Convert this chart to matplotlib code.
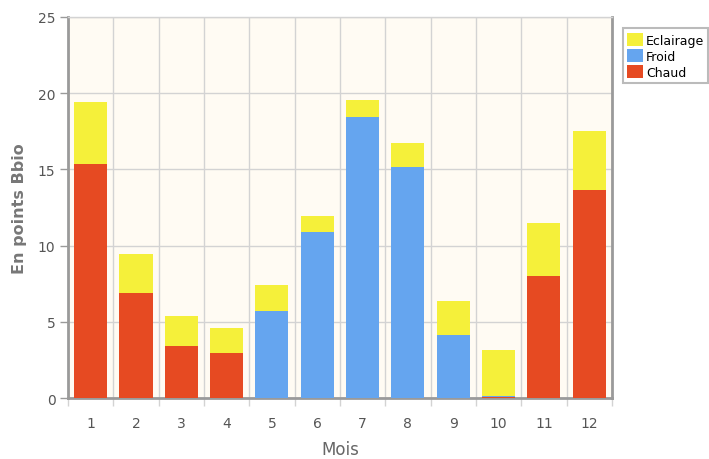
import matplotlib.pyplot as plt
import numpy as np

# values (En points Bbio)
mois = [1, 2, 3, 4, 5, 6, 7, 8, 9, 10, 11, 12]
chaud = [15.35, 6.9, 3.4, 2.95, 0, 0, 0, 0, 0, 0.08, 8.0, 13.65]
froid = [0, 0, 0, 0, 5.7, 10.9, 18.45, 15.15, 4.13, 0.08, 0, 0]
eclairage = [4.05, 2.55, 1.98, 1.65, 1.7, 1.05, 1.1, 1.58, 2.23, 2.99, 3.48, 3.87]

c_chaud = '#E64A22'
c_froid = '#65A5EF'
c_ecl = '#F5F03A'
grid_col = '#D3D3D3'
spine_col = '#9A9A9A'

fig = plt.figure(figsize=(7.09, 4.6), dpi=100)
ax = fig.add_axes([0.0959, 0.1326, 0.7671, 0.8283])
ax.set_facecolor('#FFFBF3')

x = np.array(mois)
w = 0.73
ch = np.array(chaud)
fr = np.array(froid)
ec = np.array(eclairage)
ax.bar(x, ch, w, color=c_chaud, label='Chaud', zorder=3)
ax.bar(x, fr, w, bottom=ch, color=c_froid, label='Froid', zorder=3)
ax.bar(x, ec, w, bottom=ch + fr, color=c_ecl, label='Eclairage', zorder=3)

ax.set_xlim(0.5, 12.5)
ax.set_ylim(0, 25)
ax.set_yticks([0, 5, 10, 15, 20, 25])
ax.set_xticks(np.arange(0.5, 13, 1))
ax.set_xticklabels([])
ax.set_xticks(x, minor=True)
ax.set_xticklabels([str(m) for m in mois], minor=True)
ax.tick_params(axis='x', which='major', length=6, color=grid_col, width=1)
ax.tick_params(axis='x', which='minor', length=0, pad=13, labelsize=10, labelcolor='#555555')
ax.tick_params(axis='y', length=6, color=spine_col, width=1, labelsize=10,
               labelcolor='#555555', pad=3)

ax.grid(True, which='major', color=grid_col, linewidth=1, zorder=0)
ax.set_axisbelow(True)

for s in ['left', 'bottom', 'right']:
    ax.spines[s].set_color(spine_col)
    ax.spines[s].set_linewidth(2)
ax.spines['top'].set_color(grid_col)
ax.spines['top'].set_linewidth(1)

ax.set_xlabel('Mois', fontsize=12, color='#666666', labelpad=7)
ax.set_ylabel('En points Bbio', fontsize=11.5, color='#777777', fontweight='bold', labelpad=8)

h, l = ax.get_legend_handles_labels()
leg = ax.legend(h[::-1], l[::-1], loc='upper left', bbox_to_anchor=(1.02, 0.97),
                fontsize=9, frameon=True, fancybox=False, borderpad=0.35,
                handlelength=1.3, handleheight=1.3, handletextpad=0.2,
                labelspacing=0.15, borderaxespad=0)
leg.get_frame().set_edgecolor('#AAAAAA')
leg.get_frame().set_linewidth(1.5)

fig.savefig('out.png', dpi=100)
